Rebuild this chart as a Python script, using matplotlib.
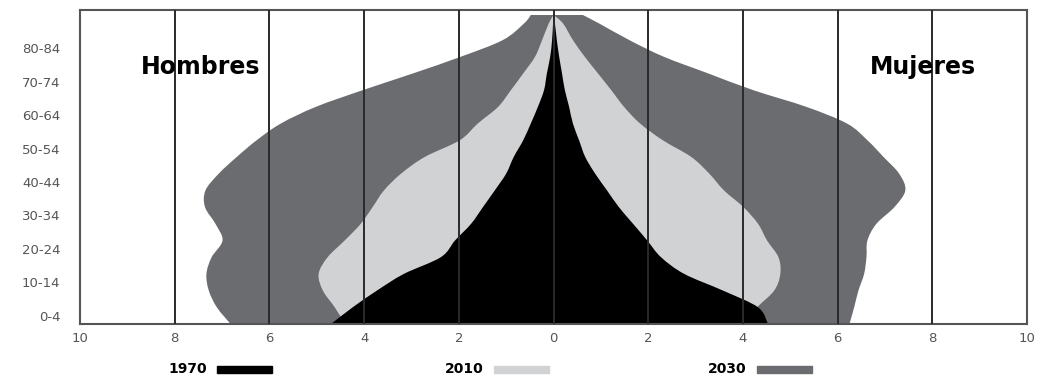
import numpy as np
import matplotlib
matplotlib.use("Agg")
from matplotlib import pyplot as plt
from matplotlib.patches import Rectangle, PathPatch
from matplotlib.path import Path

plt.rcParams['font.family'] = ['DejaVu Sans']

# edad (limite inferior del grupo) y cima de la piramide
edades = [0, 5, 10, 15, 20, 25, 30, 35, 40, 45, 50, 55, 60, 65, 70, 75, 80, 85, 90, 92.5]

# porcentaje de poblacion, hombres (izq) y mujeres (der)
h_2030 = [6.82, 7.11, 7.28, 7.33, 7.22, 6.99, 7.14, 7.36, 7.35, 7.07, 6.69, 6.27, 5.76, 5.02, 4.03, 2.97, 1.96, 1.07, 0.62, 0.48]
m_2030 = [6.25, 6.35, 6.44, 6.56, 6.61, 6.63, 6.82, 7.20, 7.43, 7.30, 6.97, 6.63, 6.20, 5.34, 4.22, 3.27, 2.33, 1.60, 0.96, 0.62]
h_2010 = [4.40, 4.62, 4.87, 4.96, 4.77, 4.41, 4.07, 3.82, 3.58, 3.22, 2.72, 1.98, 1.60, 1.17, 0.90, 0.64, 0.39, 0.24, 0.10, 0.0]
m_2010 = [4.00, 4.30, 4.66, 4.79, 4.75, 4.51, 4.32, 4.01, 3.60, 3.29, 2.91, 2.31, 1.83, 1.49, 1.22, 0.94, 0.66, 0.41, 0.20, 0.0]
h_1970 = [4.70, 4.24, 3.73, 3.16, 2.38, 2.08, 1.74, 1.49, 1.24, 1.00, 0.84, 0.64, 0.48, 0.33, 0.20, 0.14, 0.07, 0.03, 0.01, 0.0]
m_1970 = [4.53, 4.32, 3.58, 2.76, 2.27, 1.98, 1.68, 1.38, 1.13, 0.88, 0.67, 0.54, 0.41, 0.33, 0.24, 0.18, 0.12, 0.07, 0.03, 0.0]

grupos = ['0-4', '10-14', '20-24', '30-34', '40-44', '50-54', '60-64', '70-74', '80-84']
grupos_pos = [2.5, 12.5, 22.5, 32.5, 42.5, 52.5, 62.5, 72.5, 82.5]
xticks = [-10, -8, -6, -4, -2, 0, 2, 4, 6, 8, 10]

anios = ['1970', '2010', '2030']
colores = ['#000000', '#d1d2d4', '#6b6c70']


def curva(xs, ys):
    # curva suave (catmull-rom) que pasa por los puntos dados
    pts = np.column_stack([xs, ys]).astype(float)
    p = np.vstack([pts[0], pts, pts[-1]])
    verts, codes = [pts[0]], [Path.LINETO]
    for i in range(1, len(p) - 2):
        verts += [p[i] + (p[i+1] - p[i-1]) / 6, p[i+1] - (p[i+2] - p[i]) / 6, p[i+1]]
        codes += [Path.CURVE4] * 3
    return verts, codes


def piramide(ax, izq, der, color, z):
    y = np.array(edades, dtype=float)
    v1, c1 = curva(-np.array(izq), y)
    v2, c2 = curva(np.array(der)[::-1], y[::-1])
    c1[0] = Path.MOVETO
    verts = v1 + v2 + [v1[0]]
    codes = c1 + c2 + [Path.CLOSEPOLY]
    ax.add_patch(PathPatch(Path(verts, codes), facecolor=color, lw=0, zorder=z))


fig = plt.figure(figsize=(10.38, 3.77), dpi=100)
ax = fig.add_axes([80/1038, 53/377, 947/1038, 314/377])

piramide(ax, h_2030, m_2030, colores[2], 1)
piramide(ax, h_2010, m_2010, colores[1], 1.1)
piramide(ax, h_1970, m_1970, colores[0], 1.2)

for v in xticks[1:-1]:
    ax.axvline(v, color='#2a2a2a', lw=1.4, zorder=3)

ax.set_xlim(-10, 10)
ax.set_ylim(0, 94)
ax.set_xticks(xticks)
ax.set_xticklabels([str(abs(v)) for v in xticks])
ax.set_yticks(grupos_pos)
ax.set_yticklabels(grupos)
ax.tick_params(axis='both', length=0, labelsize=9.5, labelcolor='#555555')
ax.tick_params(axis='y', pad=14)
ax.tick_params(axis='x', pad=6)
for s in ax.spines.values():
    s.set_color('#555555')
    s.set_linewidth(1.5)

ax.text(-7.45, 77, 'Hombres', fontsize=17, fontweight='bold', ha='center', va='center')
ax.text(7.8, 77, 'Mujeres', fontsize=17, fontweight='bold', ha='center', va='center')

# leyenda inferior
ley_x = [168, 445, 708]
for lab, col, x0 in zip(anios, colores, ley_x):
    fig.text(x0/1038, 1 - 369/377, lab, fontsize=10, fontweight='bold', va='center')
    fig.patches.append(Rectangle(((x0 + 49)/1038, 1 - 373/377), 55/1038, 7/377,
                                 transform=fig.transFigure, color=col, figure=fig))

fig.savefig('out.png', dpi=100)
